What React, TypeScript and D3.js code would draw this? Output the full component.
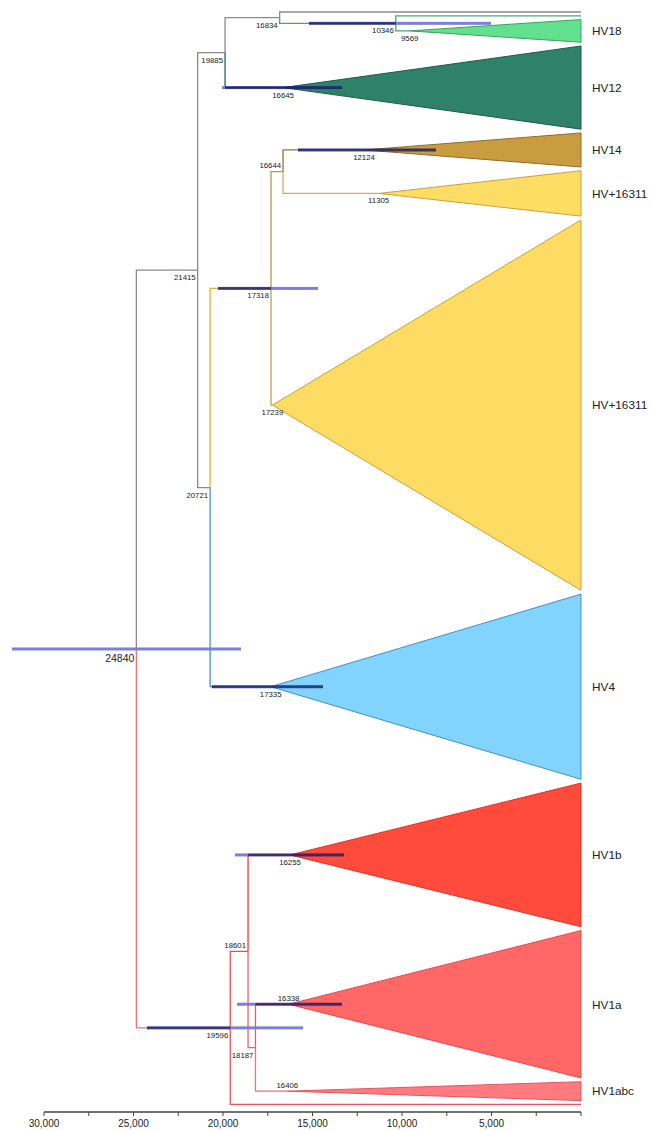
import React from "react";
import * as d3 from "d3";

// ---------- DATA ----------
// Tree topology (Newick). Internal node labels are node ages (years BP).
const newick =
  "((((T0,(T1,C0)10346)16834,C1)19885,(((C2,C3)16644,C4)17318,C5)20721)21415,((C6,(C7,C8)18187)18601,T2)19596)24840;";

// Collapsed clades
const cladeIds = ["C0", "C1", "C2", "C3", "C4", "C5", "C6", "C7", "C8"];
const cladeNames = ["HV18", "HV12", "HV14", "HV+16311", "HV+16311", "HV4", "HV1b", "HV1a", "HV1abc"];
const cladeTipCounts = [7, 23, 10, 13, 99, 50, 39, 40, 6];
const cladeAges = [9569, 16645, 12124, 11305, 17239, 17335, 16255, 16338, 16406];

// 95% HPD intervals of node ages
const hpdNodes = ["24840", "10346", "C1", "C2", "17318", "C5", "C6", "C7", "19596"];
const hpdLow = [18994, 5028, 13352, 8101, 14693, 14413, 13240, 13352, 15531];
const hpdHigh = [31788, 15196, 20056, 15810, 20279, 20615, 19330, 19218, 24246];

// Axis
const axisTicks = [30000, 27500, 25000, 22500, 20000, 17500, 15000, 12500, 10000, 7500, 5000, 2500, 0];
const axisLabels = [30000, 25000, 20000, 15000, 10000, 5000];

// ---------- STYLES ----------
const branchColor: Record<string, string> = {
  "21415": "#8a8a8a",
  "19885": "#8a8a8a",
  "16834": "#8a8a8a",
  T0: "#8a8a8a",
  "10346": "#46a86b",
  T1: "#46a86b",
  C0: "#46a86b",
  C1: "#1f6b55",
  "20721": "#8a8a8a",
  "17318": "#d9b03a",
  "16644": "#bc9658",
  C2: "#957434",
  C3: "#d3ac5c",
  C4: "#c79d4e",
  C5: "#4b8fd4",
  "19596": "#f0707c",
  "18601": "#ef4a58",
  C6: "#ee3c3c",
  "18187": "#f0606c",
  C7: "#ef5c5c",
  C8: "#f27078",
  T2: "#ef5060",
};
const cladeFill = ["#63e08f", "#2f8268", "#c99c40", "#fedd65", "#fedc64", "#80d4fe", "#ff4b3b", "#ff6866", "#ff7b80"];
const cladeStroke = ["#3aa463", "#1f5a48", "#8f6d2c", "#c9a047", "#c9a047", "#4a8ec6", "#e53025", "#e84a4a", "#e55560"];
const labelAbove = new Set(["16644", "18601", "C7", "C8"]);
const FONT = "'Liberation Sans', Arial, Helvetica, sans-serif";

// ---------- PARSING / LAYOUT ----------
type TNode = {
  id: string;
  children: TNode[];
  parent?: TNode;
  age: number;
  u: number; // vertical position in tip units
  s?: number;
  e?: number;
  clade?: number;
};

function parseNewick(str: string): TNode {
  let i = 0;
  const parse = (): TNode => {
    const node: TNode = { id: "", children: [], age: 0, u: 0 };
    if (str[i] === "(") {
      i++;
      node.children.push(parse());
      while (str[i] === ",") {
        i++;
        node.children.push(parse());
      }
      i++; // ')'
    }
    let name = "";
    while (i < str.length && !",();".includes(str[i])) name += str[i++];
    node.id = name;
    node.children.forEach((c) => (c.parent = node));
    return node;
  };
  return parse();
}

function layout(root: TNode) {
  let cursor = 0;
  const all: TNode[] = [];
  const visit = (n: TNode) => {
    all.push(n);
    if (n.children.length) {
      n.children.forEach(visit);
      n.age = +n.id;
      n.u = (n.children[0].u + n.children[n.children.length - 1].u) / 2;
    } else {
      const ci = cladeIds.indexOf(n.id);
      const count = ci >= 0 ? cladeTipCounts[ci] : 1;
      n.s = cursor;
      n.e = cursor + count - 1;
      cursor += count;
      n.u = (n.s + n.e) / 2;
      if (ci >= 0) {
        n.clade = ci;
        n.age = cladeAges[ci];
      } else n.age = 0;
    }
  };
  visit(root);
  return { all, maxUnit: cursor - 1 };
}

export default function App() {
  const width = 652;
  const height = 1130;
  const root = parseNewick(newick);
  const { all, maxUnit } = layout(root);

  const x = d3.scaleLinear().domain([30000, 0]).range([44, 581]);
  const y = d3.scaleLinear().domain([0, maxUnit]).range([12, 1104.4]);
  const axisY = 1112;

  const byId: Record<string, TNode> = {};
  all.forEach((n) => (byId[n.id] = n));

  const branches = all
    .filter((n) => n.parent)
    .map((n) => {
      const p = n.parent!;
      const path = d3.path();
      path.moveTo(x(p.age), y(p.u));
      path.lineTo(x(p.age), y(n.u));
      path.lineTo(x(n.age), y(n.u));
      return { id: n.id, d: path.toString(), color: branchColor[n.id] || "#888" };
    });

  const clades = all.filter((n) => n.clade !== undefined);

  const bars = hpdNodes.map((id, i) => {
    const n = byId[id];
    const lo = x(hpdHigh[i]);
    const hi = x(hpdLow[i]);
    let darkStart = n.parent ? Math.max(lo, x(n.parent.age)) : hi;
    let darkEnd = n.parent ? (n.clade !== undefined ? hi : Math.min(hi, x(n.age))) : hi;
    if (darkEnd < darkStart) darkEnd = darkStart;
    return { id, y: y(n.u), lo, hi, darkStart, darkEnd };
  });

  const fmt = d3.format(",");

  return (
    <svg
      width={width}
      height={height}
      style={{ position: "absolute", left: 0, top: 0, background: "#fff" }}
      fontFamily={FONT}
    >
      {/* branches */}
      <g fill="none" strokeWidth={1.3}>
        {branches.map((b) => (
          <path key={b.id} d={b.d} stroke={b.color} />
        ))}
      </g>
      {/* collapsed clade triangles */}
      <g strokeWidth={1}>
        {clades.map((n) => {
          const ci = n.clade!;
          const pts: [number, number][] = [
            [x(n.age), y(n.u)],
            [x(0), y(n.s!)],
            [x(0), y(n.e!)],
          ];
          return (
            <path
              key={n.id}
              d={(d3.line()(pts) || "") + "Z"}
              fill={cladeFill[ci]}
              stroke={cladeStroke[ci]}
            />
          );
        })}
      </g>
      {/* HPD bars */}
      <g>
        {bars.map((b) => (
          <g key={b.id}>
            {b.darkStart > b.lo && (
              <rect x={b.lo} y={b.y - 1.5} width={b.darkStart - b.lo} height={3} fill="#7479d6" opacity={0.95} />
            )}
            {b.hi > b.darkEnd && (
              <rect x={b.darkEnd} y={b.y - 1.5} width={b.hi - b.darkEnd} height={3} fill="#7479d6" opacity={0.95} />
            )}
            {b.darkEnd > b.darkStart && (
              <rect
                x={b.darkStart}
                y={b.y - 1.5}
                width={b.darkEnd - b.darkStart}
                height={3}
                fill="#161c72"
                opacity={0.82}
              />
            )}
          </g>
        ))}
      </g>
      {/* node labels */}
      <g fill="#222">
        {all
          .filter((n) => n.children.length || n.clade !== undefined)
          .map((n) => {
            const isRoot = !n.parent;
            const isClade = n.clade !== undefined;
            const above = labelAbove.has(n.id);
            const fs = isRoot ? 10.5 : 7.8;
            const ty = y(n.u) + (above ? -3.5 : isRoot ? 13 : 10);
            return (
              <text
                key={"l" + n.id}
                x={isClade ? x(n.age) : x(n.age) - 2}
                y={ty}
                fontSize={fs}
                textAnchor={isClade ? "middle" : "end"}
              >
                {String(n.age)}
              </text>
            );
          })}
      </g>
      {/* clade names */}
      <g fill="#222">
        {clades.map((n) => (
          <text key={"c" + n.id} x={x(0) + 11} y={y(n.u) + 4.3} fontSize={11.8}>
            {cladeNames[n.clade!]}
          </text>
        ))}
      </g>
      {/* axis */}
      <g>
        <line x1={x(30000)} x2={x(0)} y1={axisY} y2={axisY} stroke="#444" strokeWidth={1.6} />
        {axisTicks.map((t) => (
          <line key={"t" + t} x1={x(t)} x2={x(t)} y1={axisY} y2={axisY + 4} stroke="#444" strokeWidth={1} />
        ))}
        {axisLabels.map((t) => (
          <text key={"a" + t} x={x(t)} y={axisY + 15} fontSize={10} textAnchor="middle" fill="#222">
            {fmt(t)}
          </text>
        ))}
      </g>
    </svg>
  );
}
